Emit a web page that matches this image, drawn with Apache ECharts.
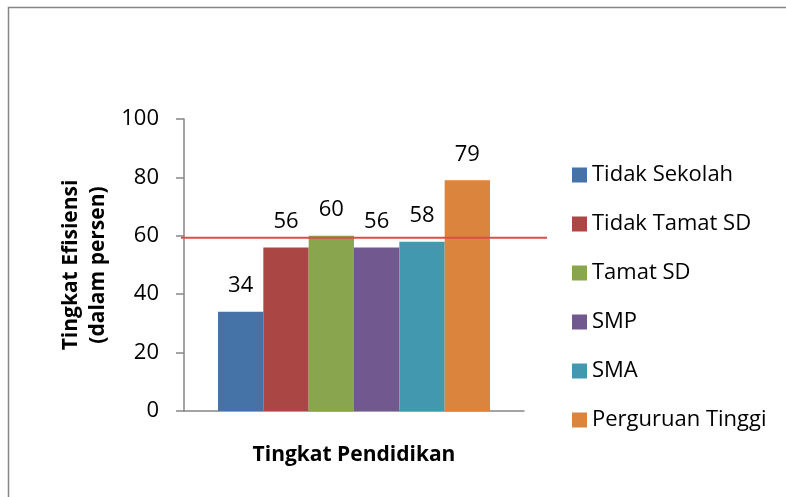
<!DOCTYPE html>
<html>
<head>
    <meta charset="utf-8">
    <script src="https://cdn.jsdelivr.net/npm/echarts@6/dist/echarts.min.js"></script>
    <style>
        body { margin: 0; background: #fff; }
    </style>
</head>
<body>
<div id="main" style="width: 786px; height: 497px"></div>
<script type="text/javascript">
    // data
    var categories = ['Tidak Sekolah', 'Tidak Tamat SD', 'Tamat SD', 'SMP', 'SMA', 'Perguruan Tinggi'];
    var values = [34, 56, 60, 56, 58, 79];
    var colors = ['#4572A7', '#AA4643', '#89A54E', '#71588F', '#4198AF', '#DB843D'];
    var averageLine = 59.3;
    var yTicks = {min: 0, max: 100, interval: 20};

    var font = '"Open Sans", "Liberation Sans", sans-serif';

    var series = [];
    for (var i = 0; i < categories.length; i++) {
        series.push({
            name: categories[i], type: 'bar',
            xAxisIndex: 0, yAxisIndex: 0,
            barGap: 0, barCategoryGap: '20%',
            itemStyle: {color: colors[i]},
            label: {show: true, position: 'top', distance: 15, color: '#000', fontSize: 22, fontFamily: font},
            data: [values[i]]
        });
    }
    // red reference line, drawn on its own wider grid
    series.push({
        name: 'rata-rata', type: 'line',
        xAxisIndex: 1, yAxisIndex: 1,
        symbol: 'none', silent: true,
        lineStyle: {color: '#D9504A', width: 2},
        data: [[0, averageLine], [1, averageLine]]
    });

    var myChart = echarts.init(document.getElementById('main'));
    var option = {
        backgroundColor: '#fff',
        animation: false,
        textStyle: {fontFamily: font},
        graphic: [{
            type: 'rect', shape: {x: 8.5, y: 7.5, width: 900, height: 600},
            style: {fill: null, stroke: '#868686', lineWidth: 1.5}, silent: true
        }],
        legend: {
            orient: 'vertical', left: 567, top: 159,
            itemWidth: 15, itemHeight: 15, itemGap: 27, itemTextGap: 5,
            icon: 'rect',
            data: categories,
            textStyle: {fontSize: 22, color: '#000', lineHeight: 21, fontFamily: font}
        },
        grid: [
            {left: 184, right: 262, top: 119, bottom: 86},
            {left: 181, right: 239, top: 119, bottom: 86}
        ],
        xAxis: [{
            gridIndex: 0, type: 'category', data: [''],
            name: 'Tingkat Pendidikan', nameLocation: 'middle', nameGap: 34,
            nameTextStyle: {fontSize: 21, fontWeight: 'bold', color: '#000', fontFamily: font},
            axisLine: {lineStyle: {color: '#868686', width: 1.5}},
            axisTick: {show: false}, axisLabel: {show: false}
        }, {
            gridIndex: 1, type: 'value', min: 0, max: 1, show: false
        }],
        yAxis: [{
            gridIndex: 0, type: 'value', min: yTicks.min, max: yTicks.max, interval: yTicks.interval,
            name: 'Tingkat Efisiensi\n(dalam persen)', nameLocation: 'middle', nameRotate: 90, nameGap: 72,
            nameTextStyle: {fontSize: 21, fontWeight: 'bold', color: '#000', lineHeight: 27, fontFamily: font},
            axisLine: {show: true, lineStyle: {color: '#868686', width: 1.5}},
            axisTick: {show: true, length: 8, lineStyle: {color: '#868686', width: 1.5}},
            axisLabel: {fontSize: 22, color: '#000', margin: 25, fontFamily: font},
            splitLine: {show: false}
        }, {
            gridIndex: 1, type: 'value', min: yTicks.min, max: yTicks.max, show: false
        }],
        series: series
    };
    myChart.setOption(option);
</script>
</body>
</html>
